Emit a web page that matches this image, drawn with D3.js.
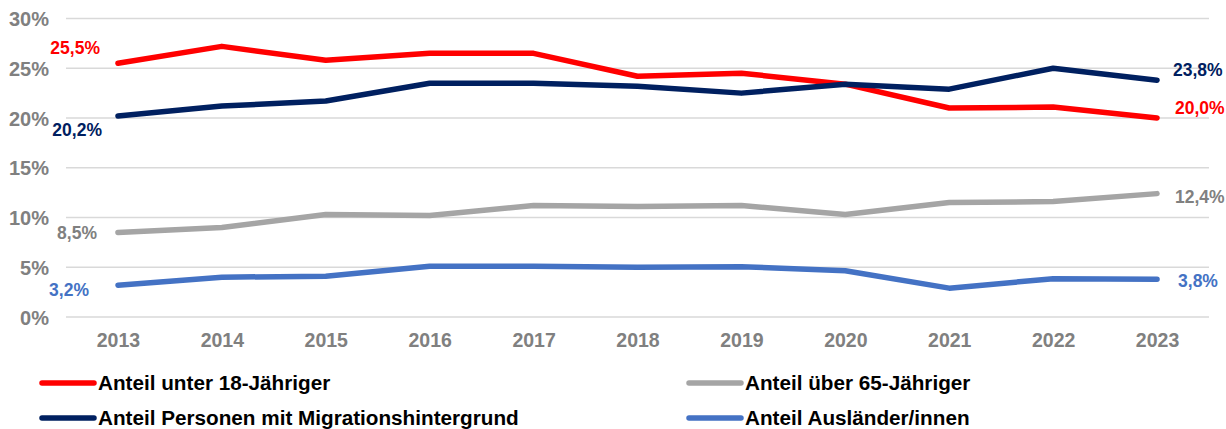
<!DOCTYPE html>
<html>
<head>
<meta charset="utf-8">
<script src="https://cdn.jsdelivr.net/npm/d3@7"></script>
<style>
  html, body { margin: 0; padding: 0; background: #fff; }
  svg { display: block; font-family: "Liberation Sans", Arial, sans-serif; }
</style>
</head>
<body>
<svg id="chart" width="1226" height="429"></svg>
<script>
const years = ["2013","2014","2015","2016","2017","2018","2019","2020","2021","2022","2023"];
const yTicks = [0, 5, 10, 15, 20, 25, 30];

const under18   = [25.5, 27.2, 25.8, 26.5, 26.5, 24.2, 24.5, 23.4, 21.0, 21.1, 20.0];
const migration = [20.2, 21.2, 21.7, 23.5, 23.5, 23.2, 22.5, 23.4, 22.9, 25.0, 23.8];
const over65    = [8.5, 9.0, 10.3, 10.2, 11.2, 11.1, 11.2, 10.3, 11.5, 11.6, 12.4];
const foreign   = [3.2, 4.0, 4.1, 5.1, 5.1, 5.0, 5.05, 4.65, 2.9, 3.85, 3.8];

const seriesNames = [
  "Anteil unter 18-Jähriger",
  "Anteil über 65-Jähriger",
  "Anteil Personen mit Migrationshintergrund",
  "Anteil Ausländer/innen"
];

const series = [
  { name: seriesNames[0], values: under18,   color: "#FF0000", first: { dx: -18, dy: -15 }, last: { dx: 18, dy: -10 } },
  { name: seriesNames[1], values: over65,    color: "#A5A5A5", first: { dx: -21, dy: 0 },   last: { dx: 18, dy: 3 } },
  { name: seriesNames[2], values: migration, color: "#002060", first: { dx: -16, dy: 14 },  last: { dx: 16, dy: -10 } },
  { name: seriesNames[3], values: foreign,   color: "#4472C4", first: { dx: -29, dy: 5 },   last: { dx: 21, dy: 2 } }
];

const svg = d3.select("#chart");
const plotLeft = 66, plotRight = 1209, plotTop = 18.5, plotBottom = 317;

const x = d3.scalePoint().domain(years).range([plotLeft, plotRight]).padding(0.5);
const y = d3.scaleLinear().domain([0, 30]).range([plotBottom, plotTop]);

const fmt = v => d3.format(".1f")(v).replace(".", ",") + "%";

// horizontal gridlines
svg.append("g")
  .selectAll("line")
  .data(yTicks)
  .join("line")
  .attr("x1", plotLeft).attr("x2", plotRight)
  .attr("y1", d => y(d)).attr("y2", d => y(d))
  .attr("stroke", "#D9D9D9").attr("stroke-width", 1.5);

// y axis labels
const yAxis = svg.append("g")
  .attr("transform", `translate(49,0)`)
  .call(d3.axisLeft(y).tickValues(yTicks).tickSize(0).tickPadding(0).tickFormat(d => d + "%"));
yAxis.select(".domain").remove();
yAxis.selectAll("text")
  .attr("fill", "#808080").attr("font-size", 20).attr("font-weight", "bold")
  .attr("font-family", "'Liberation Sans', Arial, sans-serif")
  .attr("dy", "0.36em");

// x axis labels
const xAxis = svg.append("g")
  .attr("transform", `translate(0,${plotBottom})`)
  .call(d3.axisBottom(x).tickSize(0).tickPadding(16));
xAxis.select(".domain").remove();
xAxis.selectAll("text")
  .attr("fill", "#808080").attr("font-size", 19.5).attr("font-weight", "bold")
  .attr("font-family", "'Liberation Sans', Arial, sans-serif");

// lines
const line = d3.line().x((d, i) => x(years[i])).y(d => y(d));
const lineOrder = [series[1], series[3], series[0], series[2]];
svg.append("g")
  .selectAll("path")
  .data(lineOrder)
  .join("path")
  .attr("d", s => line(s.values))
  .attr("fill", "none")
  .attr("stroke", s => s.color)
  .attr("stroke-width", 5.5)
  .attr("stroke-linejoin", "round")
  .attr("stroke-linecap", "round");

// end labels
const labels = svg.append("g")
  .attr("font-size", 17.5).attr("font-weight", "bold")
  .attr("font-family", "'Liberation Sans', Arial, sans-serif");
series.forEach(s => {
  const n = s.values.length - 1;
  const textColor = s.color === "#A5A5A5" ? "#808080" : s.color;
  labels.append("text")
    .attr("x", x(years[0]) + s.first.dx)
    .attr("y", y(s.values[0]) + s.first.dy)
    .attr("dy", "0.35em")
    .attr("text-anchor", "end")
    .attr("fill", textColor)
    .text(fmt(s.values[0]));
  labels.append("text")
    .attr("x", x(years[n]) + s.last.dx)
    .attr("y", y(s.values[n]) + s.last.dy)
    .attr("dy", "0.35em")
    .attr("fill", textColor)
    .text(fmt(s.values[n]));
});

// legend, two columns
const legendPos = [
  { x: 40, y: 383 },
  { x: 687, y: 383 },
  { x: 40, y: 418 },
  { x: 687, y: 418 }
];
const legend = svg.append("g")
  .selectAll("g")
  .data(series)
  .join("g")
  .attr("transform", (d, i) => `translate(${legendPos[i].x},${legendPos[i].y})`);
legend.append("line")
  .attr("x1", 2).attr("x2", 54)
  .attr("stroke", d => d.color).attr("stroke-width", 5.5).attr("stroke-linecap", "round");
legend.append("text")
  .attr("x", 58).attr("dy", "0.36em")
  .attr("font-size", 20.7).attr("font-weight", "bold").attr("fill", "#000")
  .attr("font-family", "'Liberation Sans', Arial, sans-serif")
  .text(d => d.name);
</script>
</body>
</html>
